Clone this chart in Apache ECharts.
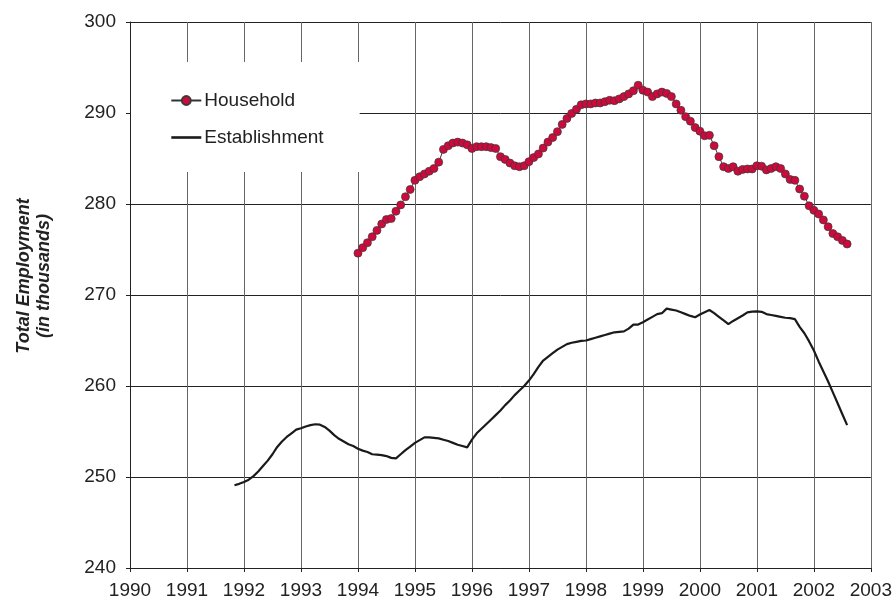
<!DOCTYPE html>
<html>
<head>
<meta charset="utf-8">
<script src="https://cdn.jsdelivr.net/npm/echarts@6/dist/echarts.min.js"></script>
<style>
  html, body { margin: 0; padding: 0; background: #fff; }
  #chart { width: 895px; height: 602px; }
</style>
</head>
<body>
<div id="chart"></div>
<script>
// monthly values, household starts Jan 1994, establishment starts Nov 1991
const householdStart = 1994;
const household = [
  274.6, 275.2, 275.75, 276.4, 277.1, 277.8, 278.3, 278.4, 279.2, 279.9, 280.8, 281.6,
  282.6, 283.0, 283.3, 283.6, 283.9, 284.6, 286.0, 286.4, 286.7, 286.8, 286.7, 286.5,
  286.1, 286.3, 286.3, 286.3, 286.2, 286.1, 285.2, 284.9, 284.5, 284.2, 284.1, 284.2,
  284.65, 285.1, 285.5, 286.15, 286.8, 287.3, 287.95, 288.75, 289.4, 289.95, 290.4, 290.9,
  291.0, 291.0, 291.1, 291.1, 291.25, 291.4, 291.35, 291.55, 291.8, 292.1, 292.45, 293.05,
  292.5, 292.3, 291.8, 292.1, 292.3, 292.15, 291.8, 291.0, 290.3, 289.6, 289.1, 288.4,
  288.0, 287.5, 287.55, 286.4, 285.2, 284.1, 283.9, 284.1, 283.6, 283.8, 283.85, 283.85,
  284.2, 284.15, 283.75, 283.9, 284.1, 283.9, 283.3, 282.7, 282.6, 281.65, 280.85, 279.8,
  279.3, 278.9, 278.25, 277.5, 276.75, 276.4, 276.0, 275.6
];

const establishmentStart = 1991 + 10 / 12;
const establishment = [
  249.1, 249.25,
  249.45, 249.7, 250.1, 250.6, 251.2, 251.8, 252.5, 253.3, 253.9, 254.4, 254.8, 255.2,
  255.35, 255.55, 255.7, 255.8, 255.75, 255.5, 255.1, 254.6, 254.2, 253.9, 253.6, 253.4,
  253.1, 252.9, 252.75, 252.5, 252.45, 252.4, 252.3, 252.1, 252.05, 252.5, 252.95, 253.35,
  253.75, 254.05, 254.35, 254.35, 254.3, 254.25, 254.1, 253.95, 253.75, 253.55, 253.4, 253.25,
  254.1, 254.8, 255.3, 255.8, 256.3, 256.8, 257.3, 257.9, 258.4, 259.0, 259.5, 260.0,
  260.6, 261.3, 262.1, 262.8, 263.2, 263.6, 264.0, 264.3, 264.6, 264.75, 264.85, 264.95,
  265.0, 265.15, 265.3, 265.45, 265.6, 265.75, 265.9, 265.95, 266.0, 266.3, 266.75, 266.75,
  267.0, 267.3, 267.6, 267.9, 268.0, 268.5, 268.4, 268.3, 268.1, 267.9, 267.7, 267.55,
  267.85, 268.1, 268.35, 268.0, 267.6, 267.2, 266.8, 267.15, 267.45, 267.75, 268.1, 268.17,
  268.2, 268.15, 267.9, 267.8, 267.7, 267.6, 267.5, 267.45, 267.35, 266.5, 265.8, 264.9,
  263.9, 262.7, 261.6, 260.5, 259.3, 258.1, 256.9, 255.7
];

const xMin = 1990, xMax = 2003;
const yMin = 240, yMax = 300;

function toPairs(start, values) {
  return values.map((v, i) => [start + i / 12, v]);
}

const font = 'Liberation Sans, Arial, sans-serif';
const myChart = echarts.init(document.getElementById('chart'));

const option = {
  animation: false,
  backgroundColor: '#fff',
  textStyle: { fontFamily: font },
  grid: { left: 130, right: 19, top: 22, bottom: 34 },
  legend: {
    orient: 'vertical',
    left: 131,
    top: 62,
    backgroundColor: '#fff',
    padding: [29, 36, 25, 39],
    itemGap: 18,
    itemWidth: 30,
    itemHeight: 11,
    textStyle: { fontFamily: font, fontSize: 19, color: '#222', padding: [0, 0, 0, -2] },
    data: [
      { name: 'Household' },
      { name: 'Establishment', itemStyle: { opacity: 0 }, lineStyle: { width: 2.6 } }
    ]
  },
  graphic: [
    {
      type: 'text',
      x: 34,
      y: 276,
      rotation: Math.PI / 2,
      style: {
        text: 'Total Employment\n(in thousands)',
        fontFamily: font,
        fontSize: 18,
        fontWeight: 'bold',
        fontStyle: 'italic',
        lineHeight: 20,
        fill: '#222',
        align: 'center',
        verticalAlign: 'middle'
      }
    }
  ],
  xAxis: {
    type: 'value',
    min: xMin,
    max: xMax,
    interval: 1,
    axisLine: { show: true, onZero: false, lineStyle: { color: '#222', width: 1 } },
    axisTick: { show: true, length: 4, lineStyle: { color: '#222' } },
    axisLabel: {
      color: '#222',
      fontSize: 19,
      margin: 13,
      formatter: v => String(v)
    },
    splitLine: { show: true, lineStyle: { color: '#666', width: 1 } }
  },
  yAxis: {
    type: 'value',
    min: yMin,
    max: yMax,
    interval: 10,
    axisLine: { show: true, lineStyle: { color: '#222', width: 1 } },
    axisTick: { show: true, length: 4, lineStyle: { color: '#222' } },
    axisLabel: { color: '#222', fontSize: 19, margin: 14 },
    splitLine: { show: true, lineStyle: { color: '#222', width: 1 } }
  },
  series: [
    {
      name: 'Household',
      type: 'line',
      data: toPairs(householdStart, household),
      symbol: 'circle',
      symbolSize: 8,
      showAllSymbol: true,
      itemStyle: { color: '#cc0a3c', borderColor: '#3a3a3a', borderWidth: 0.7 },
      lineStyle: { color: '#333', width: 1 },
      z: 3
    },
    {
      name: 'Establishment',
      type: 'line',
      data: toPairs(establishmentStart, establishment),
      symbol: 'none',
      itemStyle: { color: '#1a1a1a' },
      lineStyle: { color: '#1a1a1a', width: 2.2 },
      z: 2
    }
  ]
};

myChart.setOption(option);
</script>
</body>
</html>
